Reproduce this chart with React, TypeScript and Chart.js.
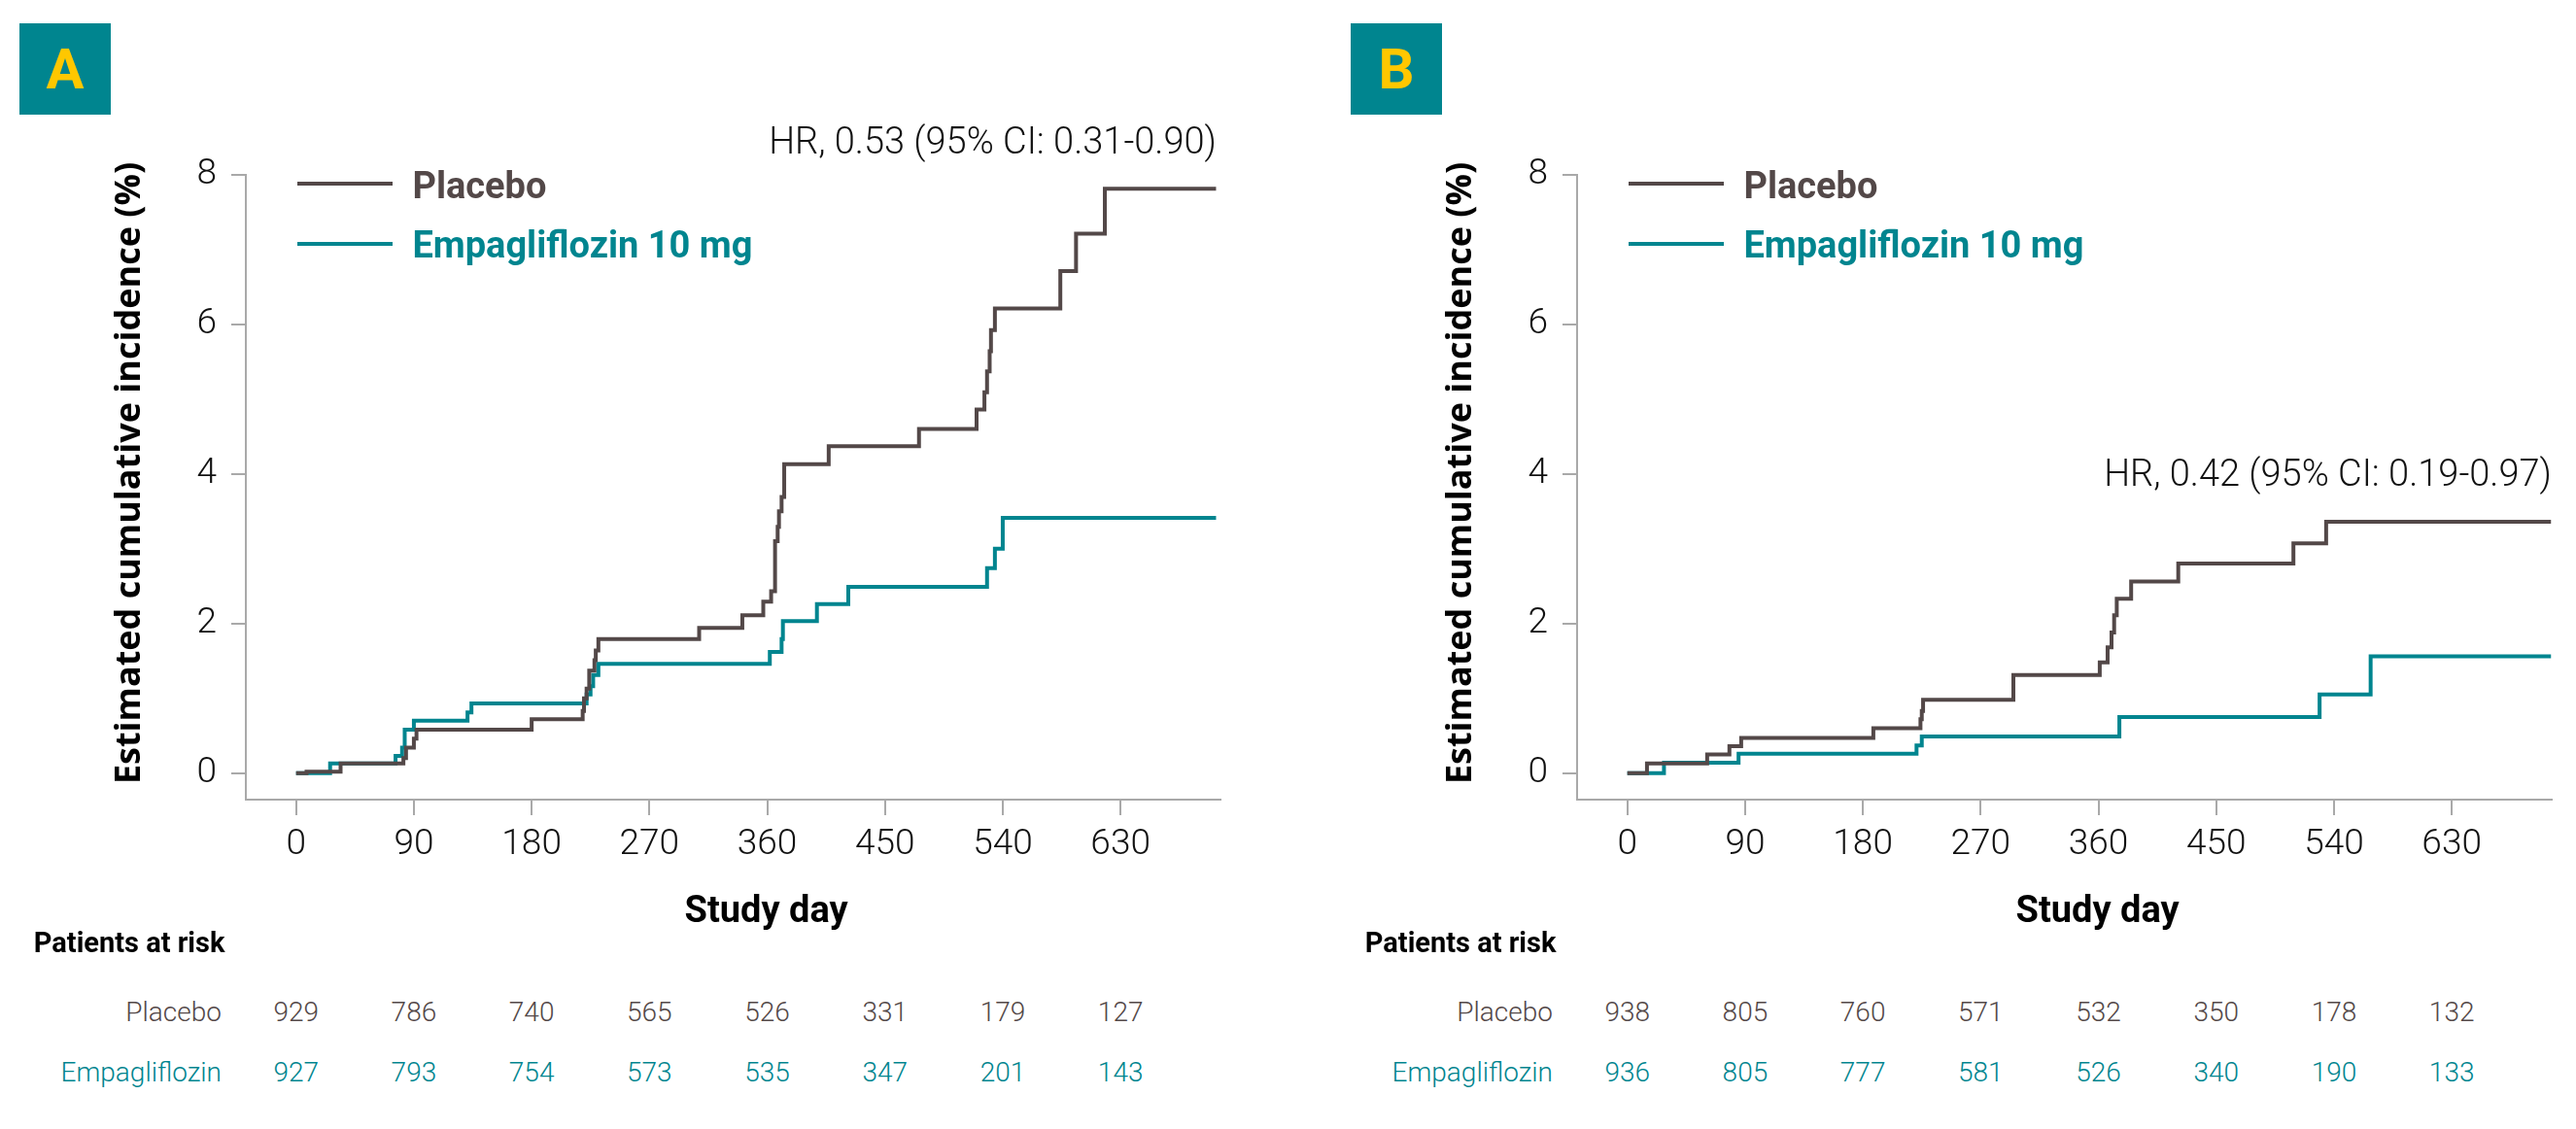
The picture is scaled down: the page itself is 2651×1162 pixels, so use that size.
import React, { useEffect, useRef } from 'react';
import { Chart, registerables } from 'chart.js';

Chart.register(...registerables);

// ---------- data ----------
const xTickValues = [0, 90, 180, 270, 360, 450, 540, 630];
const yTickValues = [0, 2, 4, 6, 8];

const placeboADays = [0, 8, 34, 82, 84, 90, 92, 180, 219, 220, 222, 224, 228, 229, 231, 308, 341, 357, 363, 366, 368, 369, 371, 373, 407, 476, 520, 526, 528, 530, 531, 534, 584, 596, 618, 703];
const placeboAIncidence = [0, 0.02, 0.13, 0.2, 0.34, 0.46, 0.58, 0.72, 0.83, 1.0, 1.13, 1.37, 1.51, 1.64, 1.79, 1.94, 2.11, 2.29, 2.43, 3.1, 3.29, 3.5, 3.69, 4.13, 4.37, 4.6, 4.86, 5.09, 5.37, 5.64, 5.92, 6.21, 6.71, 7.21, 7.81, 7.81];

const empaADays = [0, 26, 76, 81, 83, 90, 131, 134, 222, 225, 227, 231, 362, 371, 372, 398, 422, 528, 534, 540, 703];
const empaAIncidence = [0, 0.13, 0.23, 0.34, 0.58, 0.7, 0.81, 0.93, 1.05, 1.16, 1.31, 1.46, 1.62, 1.79, 2.03, 2.26, 2.49, 2.74, 3.0, 3.41, 3.41];

const placeboBDays = [0, 15, 61, 78, 87, 188, 224, 225, 226, 295, 361, 367, 370, 372, 374, 385, 421, 509, 534, 706];
const placeboBIncidence = [0, 0.13, 0.25, 0.36, 0.47, 0.6, 0.72, 0.83, 0.98, 1.31, 1.48, 1.68, 1.88, 2.11, 2.33, 2.56, 2.8, 3.07, 3.36, 3.36];

const empaBDays = [0, 28, 85, 221, 225, 376, 529, 568, 706];
const empaBIncidence = [0, 0.14, 0.26, 0.37, 0.49, 0.75, 1.05, 1.56, 1.56];

const riskPlaceboA = [929, 786, 740, 565, 526, 331, 179, 127];
const riskEmpaA = [927, 793, 754, 573, 535, 347, 201, 143];
const riskPlaceboB = [938, 805, 760, 571, 532, 350, 178, 132];
const riskEmpaB = [936, 805, 777, 581, 526, 340, 190, 133];

const hrTextA = 'HR, 0.53 (95% CI: 0.31-0.90)';
const hrTextB = 'HR, 0.42 (95% CI: 0.19-0.97)';

const seriesNames = ['Placebo', 'Empagliflozin 10 mg'];
const riskRowNames = ['Placebo', 'Empagliflozin'];

// ---------- styles / layout ----------
const BROWN = '#534848';
const TEAL = '#00858F';
const GRAY = '#a9a9a9';
const YELLOW = '#FFC700';
const INK = '#111111';

const CANVAS_W = 1281;
const CANVAS_H = 1000;
const AREA_LEFT = 253;
const AREA_RIGHT = 1255.5;
const AREA_TOP = 179.7;
const AREA_BOTTOM = 823;
const X_SCALE_H = 100;
const X_MIN = -38.4;
const X_MAX = 706;
const Y_MIN = -0.355;
const Y_MAX = 8;
const PANEL_B_OFFSET = 1370;

const pxPerDay = (AREA_RIGHT - AREA_LEFT) / (X_MAX - X_MIN);
const dayToPx = (d: number) => AREA_LEFT + (d - X_MIN) * pxPerDay;

const zip = (xs: number[], ys: number[]) => xs.map((x, i) => ({ x, y: ys[i] }));

function KMCanvas(props: { offset: number; pDays: number[]; pVals: number[]; eDays: number[]; eVals: number[] }) {
  const ref = useRef<HTMLCanvasElement>(null);
  useEffect(() => {
    const tickFont = { family: 'Roboto', size: 37, weight: '300' as any };
    const chart = new Chart(ref.current as HTMLCanvasElement, {
      type: 'line',
      data: {
        datasets: [
          {
            label: seriesNames[0],
            data: zip(props.pDays, props.pVals),
            borderColor: BROWN,
            backgroundColor: BROWN,
            borderWidth: 4,
            stepped: 'before',
            pointRadius: 0,
            fill: false,
          },
          {
            label: seriesNames[1],
            data: zip(props.eDays, props.eVals),
            borderColor: TEAL,
            backgroundColor: TEAL,
            borderWidth: 4,
            stepped: 'before',
            pointRadius: 0,
            fill: false,
          },
        ],
      },
      options: {
        animation: false,
        responsive: false,
        maintainAspectRatio: false,
        layout: {
          padding: {
            left: 0,
            top: AREA_TOP,
            right: CANVAS_W - AREA_RIGHT,
            bottom: CANVAS_H - AREA_BOTTOM - X_SCALE_H,
          },
        },
        plugins: { legend: { display: false }, tooltip: { enabled: false }, title: { display: false } },
        scales: {
          x: {
            type: 'linear',
            min: X_MIN,
            max: X_MAX,
            afterBuildTicks: (s: any) => {
              s.ticks = xTickValues.map((v) => ({ value: v }));
            },
            afterFit: (s: any) => {
              s.height = X_SCALE_H;
            },
            grid: { drawOnChartArea: false, drawTicks: true, tickLength: 16, color: GRAY, lineWidth: 2 },
            border: { display: true, color: GRAY, width: 2 },
            ticks: { font: tickFont, color: INK, padding: 9, maxRotation: 0, autoSkip: false },
          },
          y: {
            type: 'linear',
            min: Y_MIN,
            max: Y_MAX,
            afterBuildTicks: (s: any) => {
              s.ticks = yTickValues.map((v) => ({ value: v }));
            },
            afterFit: (s: any) => {
              s.width = AREA_LEFT;
            },
            grid: { drawOnChartArea: false, drawTicks: true, tickLength: 15, color: GRAY, lineWidth: 2 },
            border: { display: true, color: GRAY, width: 2 },
            ticks: { font: tickFont, color: INK, padding: 15, autoSkip: false },
          },
        },
      },
    });
    return () => chart.destroy();
  }, []);
  return (
    <canvas
      ref={ref}
      width={CANVAS_W}
      height={CANVAS_H}
      style={{ position: 'absolute', left: props.offset, top: 0, width: CANVAS_W, height: CANVAS_H }}
    />
  );
}

const abs = (s: React.CSSProperties): React.CSSProperties => ({
  position: 'absolute',
  whiteSpace: 'nowrap',
  lineHeight: 1,
  margin: 0,
  ...s,
});

function Overlay(props: {
  offset: number;
  letter: string;
  hr: string;
  hrTop: number;
  hrRight: number;
  riskP: number[];
  riskE: number[];
}) {
  const o = props.offset;
  const legendFont: React.CSSProperties = { fontFamily: 'Roboto', fontWeight: 700, fontSize: 38 };
  const riskFont: React.CSSProperties = { fontFamily: 'Roboto', fontWeight: 300, fontSize: 28 };
  return (
    <>
      <div
        style={abs({
          left: o + 20,
          top: 24,
          width: 94,
          height: 94,
          background: TEAL,
          display: 'flex',
          alignItems: 'center',
          justifyContent: 'center',
        })}
      >
        <span style={{ color: YELLOW, fontFamily: 'Roboto', fontWeight: 700, fontSize: 58, lineHeight: 1 }}>
          {props.letter}
        </span>
      </div>

      <div
        style={abs({
          left: props.hrRight - 900,
          width: 900,
          top: props.hrTop,
          textAlign: 'right',
          fontFamily: 'Roboto',
          fontWeight: 300,
          fontSize: 38,
          color: INK,
        })}
      >
        {props.hr}
      </div>

      {/* legend */}
      <div style={abs({ left: o + 306, top: 187, width: 98, height: 4, background: BROWN })} />
      <div style={abs({ left: o + 306, top: 248.7, width: 98, height: 4, background: TEAL })} />
      <div style={abs({ left: o + 424.4, top: 171.7, color: BROWN, ...legendFont })}>{seriesNames[0]}</div>
      <div style={abs({ left: o + 424.4, top: 233.3, color: TEAL, ...legendFont })}>{seriesNames[1]}</div>

      {/* axis titles */}
      <div
        style={abs({
          left: o + 131 - 450,
          top: 487 - 18,
          width: 900,
          height: 36,
          lineHeight: '36px',
          textAlign: 'center',
          transform: 'rotate(-90deg)',
          fontFamily: 'Open Sans',
          fontWeight: 700,
          fontSize: 36,
          color: '#000',
        })}
      >
        Estimated cumulative incidence (%)
      </div>
      <div
        style={abs({
          left: o + 788.6 - 200,
          width: 400,
          top: 916.7,
          textAlign: 'center',
          fontFamily: 'Roboto',
          fontWeight: 700,
          fontSize: 38,
          color: '#000',
        })}
      >
        Study day
      </div>

      {/* at-risk table */}
      <div style={abs({ left: o + 34.8, top: 956.2, fontFamily: 'Roboto', fontWeight: 700, fontSize: 29, color: '#000' })}>
        Patients at risk
      </div>
      <div style={abs({ left: o + 228 - 300, width: 300, top: 1028, textAlign: 'right', color: BROWN, ...riskFont })}>
        {riskRowNames[0]}
      </div>
      <div style={abs({ left: o + 228 - 300, width: 300, top: 1089.6, textAlign: 'right', color: TEAL, ...riskFont })}>
        {riskRowNames[1]}
      </div>
      {xTickValues.map((d, i) => (
        <React.Fragment key={d}>
          <div
            style={abs({ left: o + dayToPx(d) - 50, width: 100, top: 1028, textAlign: 'center', color: BROWN, ...riskFont })}
          >
            {props.riskP[i]}
          </div>
          <div
            style={abs({ left: o + dayToPx(d) - 50, width: 100, top: 1089.6, textAlign: 'center', color: TEAL, ...riskFont })}
          >
            {props.riskE[i]}
          </div>
        </React.Fragment>
      ))}
    </>
  );
}

export default function App() {
  return (
    <div style={{ position: 'absolute', left: 0, top: 0, width: 2651, height: 1162, background: '#fff', overflow: 'hidden' }}>
      <KMCanvas offset={0} pDays={placeboADays} pVals={placeboAIncidence} eDays={empaADays} eVals={empaAIncidence} />
      <KMCanvas
        offset={PANEL_B_OFFSET}
        pDays={placeboBDays}
        pVals={placeboBIncidence}
        eDays={empaBDays}
        eVals={empaBIncidence}
      />
      <Overlay offset={0} letter="A" hr={hrTextA} hrTop={126} hrRight={1252} riskP={riskPlaceboA} riskE={riskEmpaA} />
      <Overlay
        offset={PANEL_B_OFFSET}
        letter="B"
        hr={hrTextB}
        hrTop={467.5}
        hrRight={2626}
        riskP={riskPlaceboB}
        riskE={riskEmpaB}
      />
    </div>
  );
}
